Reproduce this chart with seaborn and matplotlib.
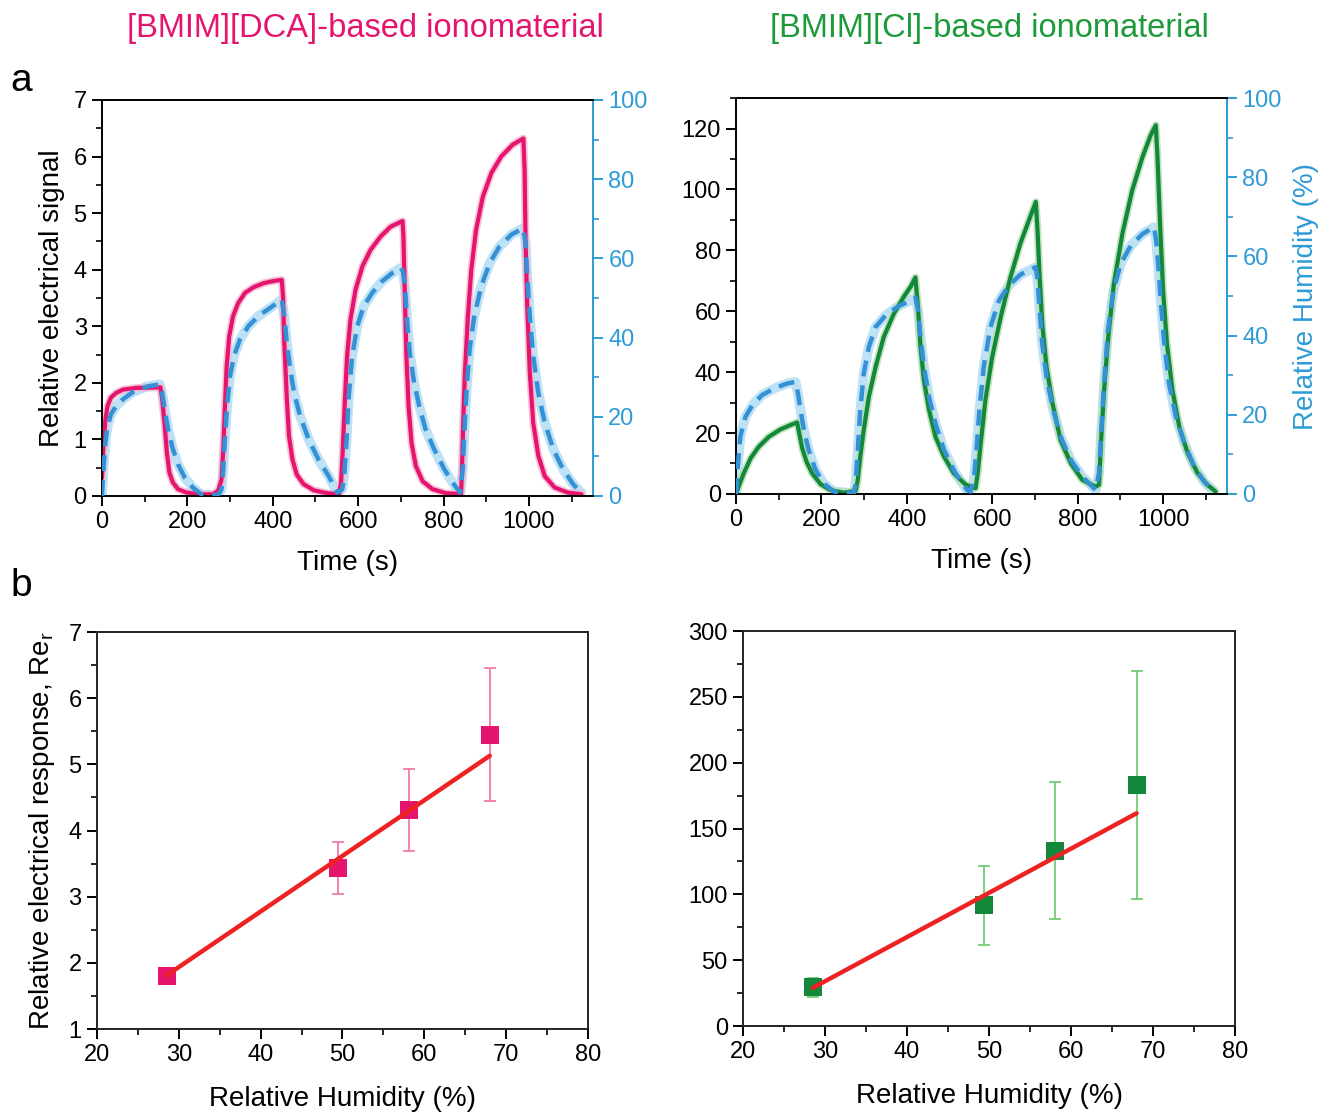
import numpy as np
import pandas as pd
import matplotlib
matplotlib.use("Agg")
import matplotlib.pyplot as plt
from matplotlib.ticker import MultipleLocator
import seaborn as sns

# ---------------- data ----------------
dca_t = [0, 3, 8, 13, 21, 33, 49, 80, 137, 141, 147, 152, 158, 166, 178, 198, 229, 260, 272, 280, 284, 288,
         292, 298, 307, 319, 335, 355, 378, 402, 421, 424, 427, 433, 438, 446, 456, 472, 496, 527, 555, 560,
         564, 569, 574, 582, 594, 610, 629, 653, 676, 704, 706, 709, 713, 718, 725, 735, 751, 774, 805, 841,
         843, 846, 850, 857, 865, 876, 892, 912, 935, 962, 987, 990, 992, 996, 1002, 1010, 1022, 1037, 1060,
         1091, 1123]
dca_sig = [0.32, 0.82, 1.35, 1.59, 1.74, 1.82, 1.88, 1.91, 1.92, 1.71, 1.24, 0.76, 0.41, 0.24, 0.12, 0.06,
           0.03, 0.03, 0.09, 0.29, 0.82, 1.59, 2.29, 2.82, 3.18, 3.41, 3.59, 3.69, 3.76, 3.80, 3.82, 3.53,
           2.71, 1.71, 1.06, 0.65, 0.38, 0.21, 0.10, 0.05, 0.03, 0.24, 0.82, 1.71, 2.47, 3.12, 3.65, 4.06,
           4.35, 4.59, 4.76, 4.86, 4.59, 3.65, 2.47, 1.59, 0.94, 0.53, 0.26, 0.12, 0.05, 0.03, 0.41, 1.29,
           2.18, 3.18, 4.00, 4.70, 5.29, 5.71, 6.00, 6.21, 6.32, 5.71, 4.53, 3.35, 2.18, 1.29, 0.71, 0.35,
           0.15, 0.06, 0.03]

dca_ht = [0, 3, 8, 13, 21, 33, 49, 72, 104, 135, 141, 147, 155, 165, 178, 194, 213, 233, 272, 280, 284, 288,
          293, 300, 309, 323, 343, 366, 394, 421, 427, 433, 441, 450, 464, 484, 507, 531, 551, 563, 568, 573,
          578, 586, 598, 613, 633, 656, 680, 700, 705, 710, 715, 721, 731, 743, 758, 778, 802, 821, 839, 845,
          849, 854, 861, 872, 888, 908, 931, 959, 986, 992, 996, 1002, 1010, 1022, 1037, 1057, 1080, 1104, 1123]
dca_rh = [0, 5.9, 13.4, 17.6, 20.6, 22.7, 24.4, 26.2, 27.6, 28.2, 26.0, 21.8, 16.8, 12.2, 8.0, 4.6, 2.1, 0.4,
          0.2, 1.7, 6.7, 14.3, 22.7, 30.3, 35.3, 39.5, 42.9, 45.4, 47.5, 49.6, 45.4, 38.7, 31.9, 26.0, 20.2,
          14.3, 9.2, 5.0, 0.8, 1.7, 5.9, 14.3, 25.2, 35.3, 42.9, 47.9, 51.3, 54.2, 56.3, 57.6, 56.7, 52.1,
          43.7, 36.1, 28.6, 22.7, 16.8, 11.8, 6.7, 3.4, 0.8, 6.7, 16.8, 26.9, 37.0, 45.4, 52.9, 58.8, 63.0,
          66.0, 67.6, 63.9, 55.5, 45.4, 35.3, 26.0, 18.5, 11.8, 6.7, 2.9, 0.8]

cl_t = [0, 6, 18, 34, 53, 77, 104, 127, 143, 148, 155, 165, 178, 198, 221, 252, 280, 285, 291, 299, 311, 327,
        346, 370, 393, 409, 420, 426, 432, 440, 452, 467, 487, 510, 538, 561, 566, 573, 584, 600, 620, 643, 666,
        686, 702, 706, 711, 717, 727, 741, 760, 784, 811, 842, 850, 855, 862, 871, 885, 905, 928, 952, 971,
        983, 987, 993, 1000, 1009, 1022, 1038, 1058, 1081, 1104, 1123]
cl_sig = [0, 2.4, 6.8, 11.7, 15.5, 18.8, 21.2, 22.6, 23.5, 19.9, 15.0, 10.6, 6.8, 3.2, 1.3, 0.4, 1.0, 4.6,
          12.3, 21.0, 31.9, 41.8, 51.6, 59.3, 64.8, 68.1, 71.1, 61.5, 48.4, 37.4, 27.6, 18.8, 12.3, 6.8, 3.0,
          1.9, 6.8, 16.6, 30.9, 45.1, 58.2, 71.3, 82.3, 89.9, 95.9, 86.7, 71.3, 56.0, 41.8, 29.8, 17.7, 10.1,
          4.6, 2.4, 3.0, 17.7, 34.1, 50.5, 69.1, 85.6, 99.8, 110.7, 117.8, 121.1, 110.7, 88.8, 67.0, 49.5,
          34.1, 22.1, 13.3, 6.8, 3.0, 0.8]

cl_ht = [0, 4, 10, 22, 38, 61, 92, 120, 139, 145, 151, 159, 170, 186, 205, 229, 276, 280, 285, 291, 299, 311,
         327, 350, 377, 401, 420, 426, 432, 440, 452, 467, 487, 514, 541, 549, 557, 563, 570, 580, 596, 616,
         639, 666, 702, 706, 711, 717, 727, 741, 760, 784, 811, 842, 850, 855, 862, 871, 884, 901, 925, 952,
         979, 984, 989, 995, 1003, 1014, 1030, 1050, 1073, 1096, 1120]
cl_rh = [0, 6.9, 14.5, 19.5, 22.4, 25.0, 26.8, 27.9, 28.3, 25.4, 21.2, 16.1, 11.1, 6.1, 2.7, 0.6, 0.2, 2.7,
         11.1, 21.2, 30.4, 37.1, 42.2, 45.1, 47.2, 48.5, 49.6, 46.4, 39.7, 32.1, 24.5, 17.8, 11.1, 5.2, 1.0,
         0.6, 3.5, 11.1, 21.2, 32.1, 42.2, 48.9, 52.7, 55.4, 57.3, 54.0, 46.4, 38.0, 29.6, 22.0, 14.5, 8.6,
         4.4, 1.0, 5.2, 15.3, 27.9, 41.3, 51.4, 58.2, 62.8, 65.7, 67.4, 64.0, 57.3, 48.1, 38.0, 27.9, 19.5,
         12.8, 6.9, 3.1, 0.6]

rh_levels = [28.5, 49.4, 58.1, 68.0]
dca_resp = [1.80, 3.43, 4.31, 5.45]
dca_err = [0.05, 0.39, 0.62, 1.01]
dca_fit = [1.81, 5.13]
cl_resp = [29.3, 91.7, 133.0, 182.8]
cl_err = [7.5, 30.0, 52.0, 86.5]
cl_fit = [29.0, 161.6]

# ---------------- style ----------------
sns.set_theme(style="ticks")
plt.rcParams['font.family'] = ['Liberation Sans', 'DejaVu Sans']
plt.rcParams['axes.linewidth'] = 1.4
plt.rcParams['text.color'] = 'black'
plt.rcParams['axes.labelcolor'] = 'black'
plt.rcParams['axes.edgecolor'] = 'black'
plt.rcParams['xtick.color'] = 'black'
plt.rcParams['ytick.color'] = 'black'

PINK = "#e5146f"
PINK_L = "#f5b6cf"
GREEN = "#13873a"
GREEN_L = "#b5dfae"
BLUE = "#3591d6"
BLUE_L = "#b6def4"
AXBLUE = "#2e9bd6"
RED = "#ee2222"
TICK = 17
LAB = 20

fig = plt.figure(figsize=(13.21, 11.12), dpi=100)

def style_ticks(ax, color="black"):
    ax.tick_params(axis="both", which="major", direction="out", length=7, width=1.4,
                   labelsize=TICK, colors=color, pad=4)
    ax.tick_params(axis="both", which="minor", direction="out", length=4, width=1.2, colors=color)

def top_panel(rect, t, sig, ht, rh, col, col_l, ymax, ymaj, ymin, left_label, right_label):
    ax = fig.add_axes(rect)
    df_s = pd.DataFrame({"t": t, "v": sig})
    df_h = pd.DataFrame({"t": ht, "v": rh})
    ax2 = ax.twinx()
    sns.lineplot(data=df_h, x="t", y="v", ax=ax2, color=BLUE_L, linewidth=7, alpha=0.9, sort=False, estimator=None)
    sns.lineplot(data=df_s, x="t", y="v", ax=ax, color=col_l, linewidth=5.5, alpha=0.8, sort=False, estimator=None)
    sns.lineplot(data=df_s, x="t", y="v", ax=ax, color=col, linewidth=3.0, sort=False, estimator=None)
    ax.set_zorder(ax2.get_zorder() + 1)
    ax.patch.set_visible(False)
    # dashed humidity line drawn on top
    ax3 = ax.twinx()
    ax3.set_zorder(ax.get_zorder() + 1)
    ax3.patch.set_visible(False)
    sns.lineplot(data=df_h, x="t", y="v", ax=ax3, color=BLUE, linewidth=3.2, sort=False, estimator=None,
                 linestyle=(0, (3.6, 2.0)))
    ax3.set_ylim(0, 100)
    ax3.axis("off")
    ax.set_xlim(0, 1150)
    ax.set_ylim(0, ymax)
    ax2.set_ylim(0, 100)
    ax.xaxis.set_major_locator(MultipleLocator(200))
    ax.xaxis.set_minor_locator(MultipleLocator(100))
    ax.yaxis.set_major_locator(MultipleLocator(ymaj))
    ax.yaxis.set_minor_locator(MultipleLocator(ymin))
    ax2.yaxis.set_major_locator(MultipleLocator(20))
    ax2.yaxis.set_minor_locator(MultipleLocator(10))
    style_ticks(ax)
    style_ticks(ax2, AXBLUE)
    ax2.tick_params(axis="y", labelcolor=AXBLUE)
    for s in ["left", "top", "bottom"]:
        ax2.spines[s].set_visible(False)
    ax.spines["right"].set_visible(False)
    ax2.spines["right"].set_color(AXBLUE)
    ax2.spines["right"].set_linewidth(1.4)
    ax.set_xlabel("Time (s)", fontsize=LAB, labelpad=12)
    ax.set_ylabel(left_label, fontsize=LAB, labelpad=6)
    ax2.set_ylabel(right_label, fontsize=LAB, color=AXBLUE, labelpad=8)
    return ax, ax2

top_panel([0.0772, 0.554, 0.3717, 0.3561], dca_t, dca_sig, dca_ht, dca_rh, PINK, PINK_L,
          7, 1, 0.5, "Relative electrical signal", "")
top_panel([0.5572, 0.5558, 0.3717, 0.356], cl_t, cl_sig, cl_ht, cl_rh, GREEN, GREEN_L,
          130, 20, 10, "", "Relative Humidity (%)")

def bottom_panel(rect, resp, err, fit, col, col_e, ylim, ymaj, ymin, ylabel):
    ax = fig.add_axes(rect)
    ax.errorbar(rh_levels, resp, yerr=err, fmt="none", ecolor=col_e, elinewidth=1.3,
                capsize=4, capthick=1.3, zorder=2)
    df_p = pd.DataFrame({"rh": rh_levels, "r": resp})
    sns.scatterplot(data=df_p, x="rh", y="r", ax=ax, marker="s", s=170, color=col,
                    edgecolor=col, linewidth=0, zorder=3)
    df_f = pd.DataFrame({"rh": [rh_levels[0], rh_levels[-1]], "r": fit})
    sns.lineplot(data=df_f, x="rh", y="r", ax=ax, color=RED, linewidth=3.2, zorder=4)
    ax.set_xlim(20, 80)
    ax.set_ylim(*ylim)
    ax.xaxis.set_major_locator(MultipleLocator(10))
    ax.xaxis.set_minor_locator(MultipleLocator(5))
    ax.yaxis.set_major_locator(MultipleLocator(ymaj))
    ax.yaxis.set_minor_locator(MultipleLocator(ymin))
    style_ticks(ax)
    for s in ax.spines.values():
        s.set_color("#222222")
        s.set_linewidth(1.4)
    ax.set_xlabel("Relative Humidity (%)", fontsize=LAB, labelpad=14)
    ax.set_ylabel(ylabel, fontsize=LAB, labelpad=8)
    return ax

bottom_panel([0.0734, 0.0746, 0.3717, 0.357], dca_resp, dca_err, dca_fit, PINK, "#f27aab",
             (1, 7), 1, 0.5, "Relative electrical response, Re$_\\mathregular{r}$")
bottom_panel([0.5625, 0.0773, 0.3724, 0.3552], cl_resp, cl_err, cl_fit, GREEN, "#74cc74",
             (0, 300), 50, 25, "")

fig.text(0.2765, 0.974, "[BMIM][DCA]-based ionomaterial", color=PINK, fontsize=23.5, ha="center", va="center")
fig.text(0.749, 0.974, "[BMIM][Cl]-based ionomaterial", color="#1d9a3a", fontsize=23.5, ha="center", va="center")
fig.text(0.008, 0.927, "a", fontsize=28, ha="left", va="center")
fig.text(0.008, 0.473, "b", fontsize=28, ha="left", va="center")

fig.savefig("out.png", dpi=100, facecolor="white")
